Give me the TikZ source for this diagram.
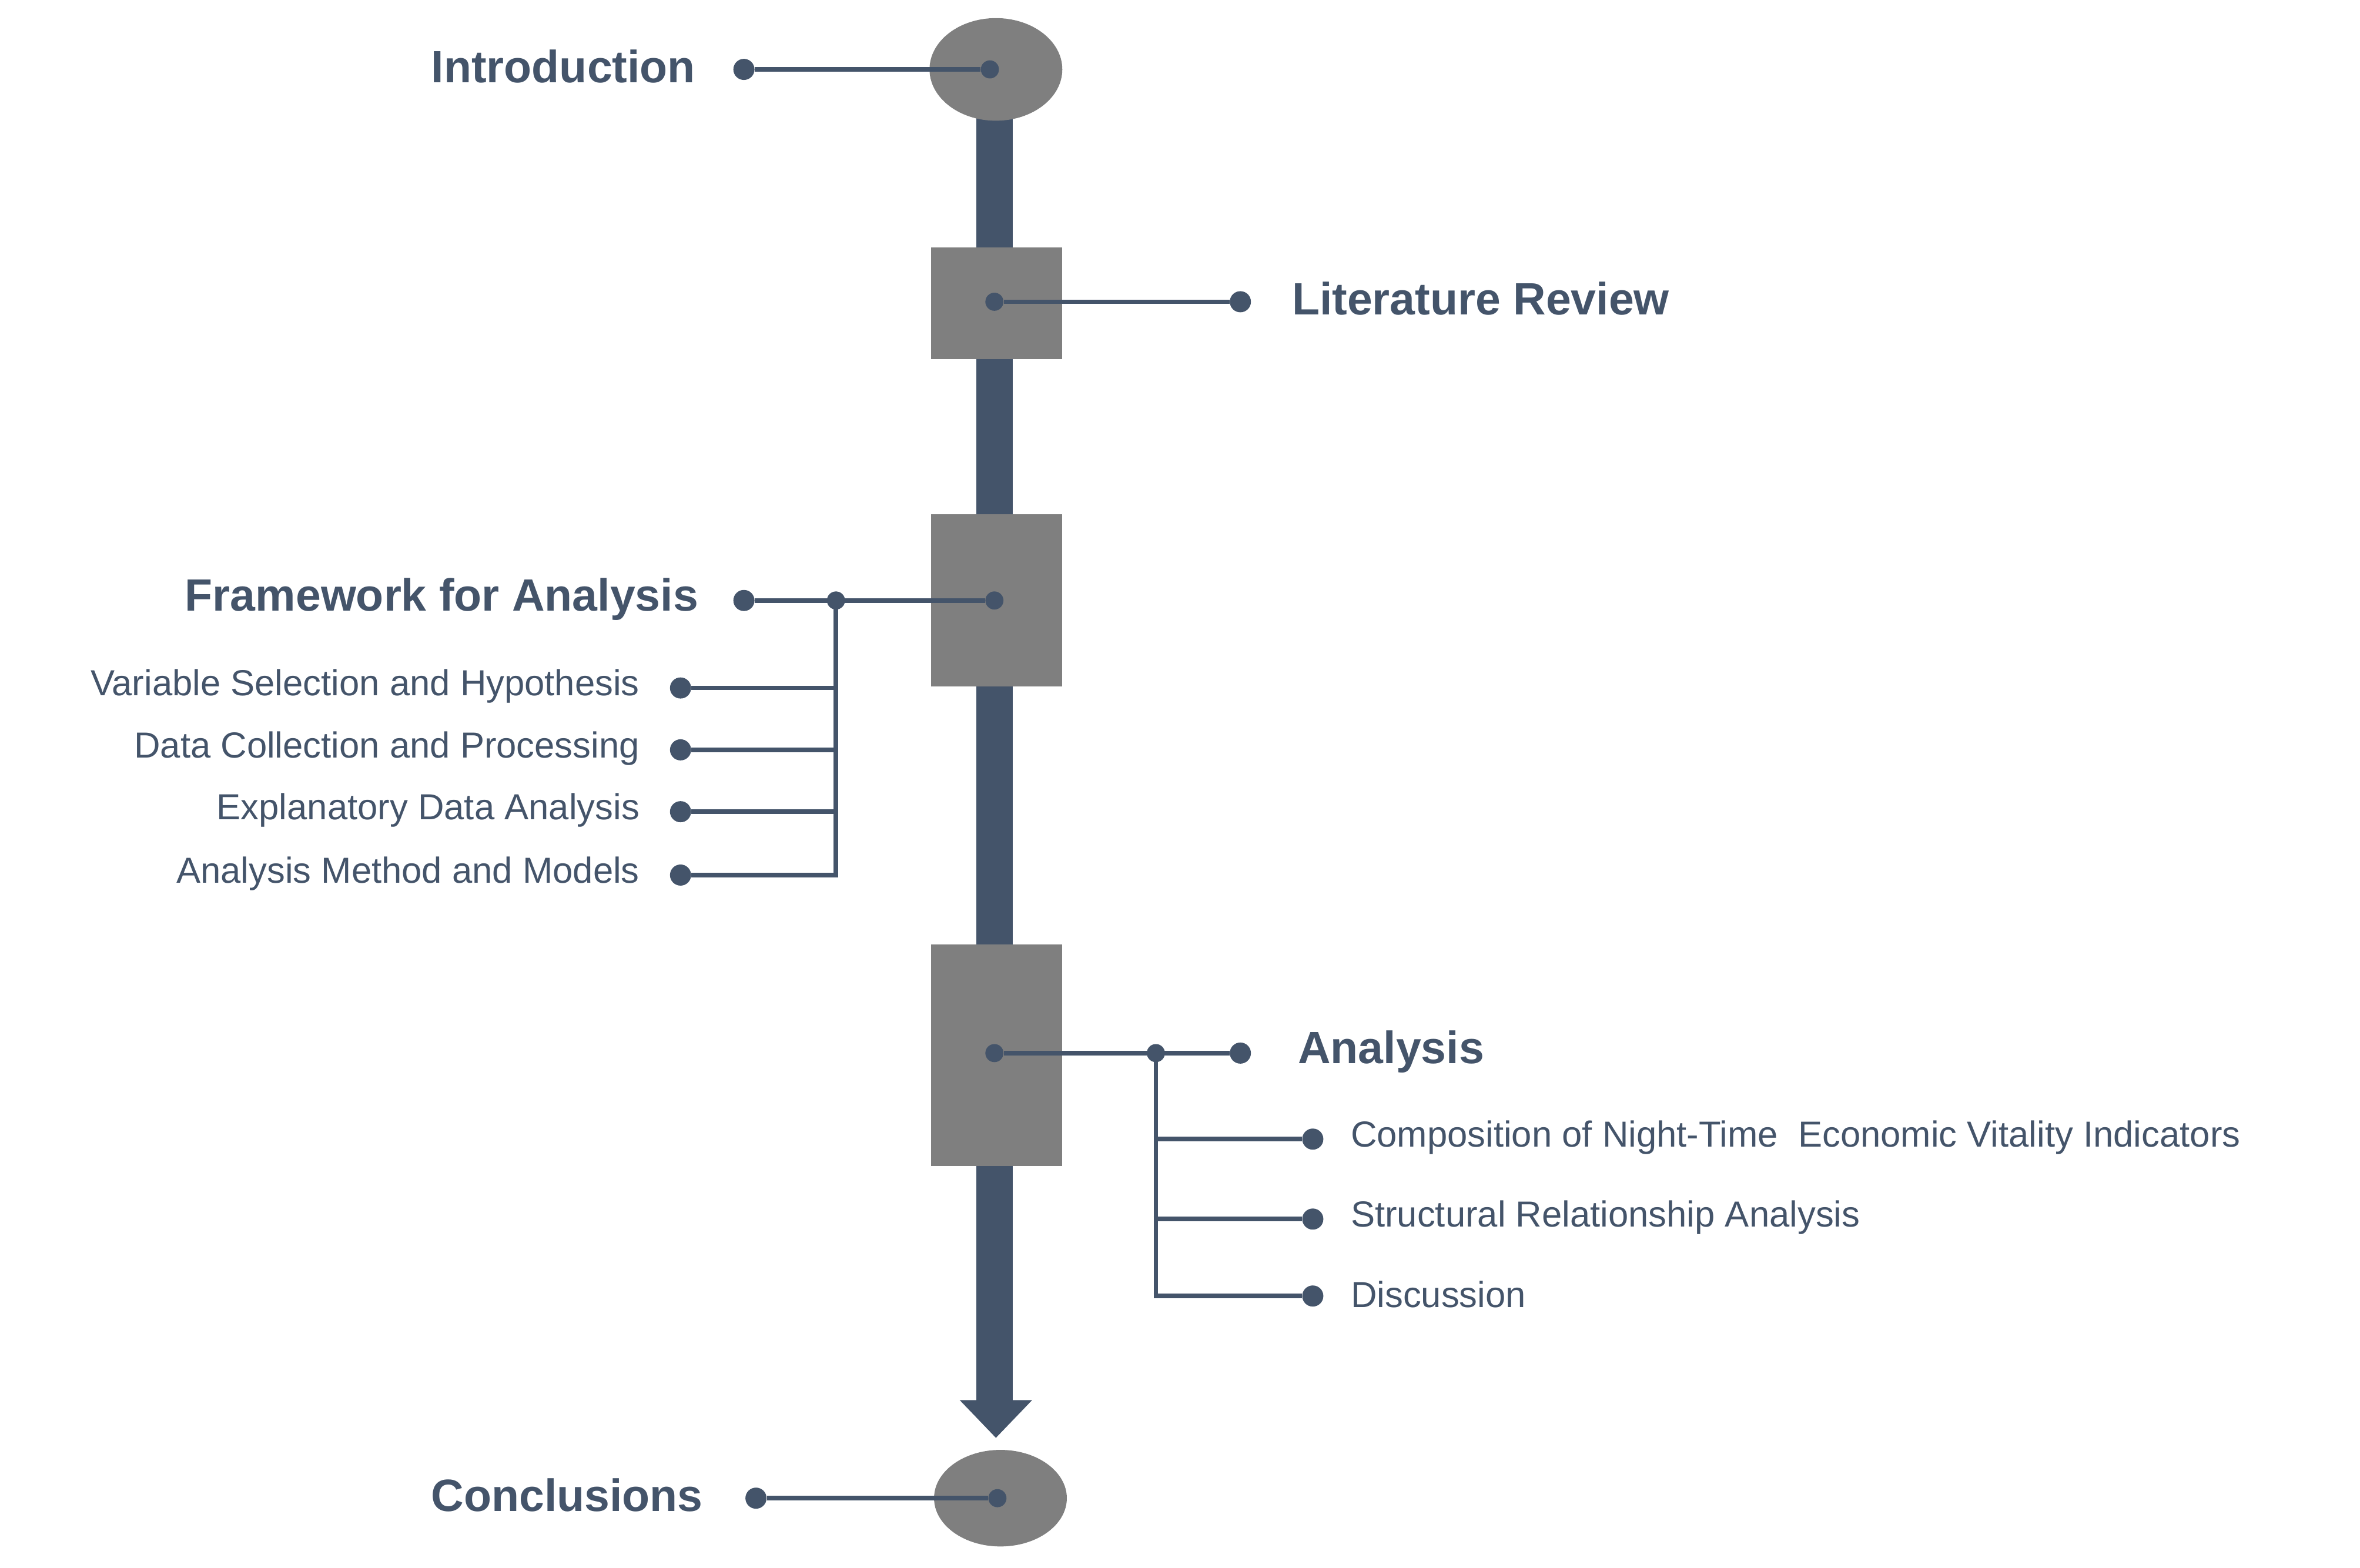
\documentclass[tikz,border=0pt]{standalone}
\usepackage{fontspec}
\setmainfont{Liberation Sans}
\begin{document}
\begin{tikzpicture}[x=1pt,y=-1pt,
  slate/.style={draw=sl,line width=3pt},
  dot/.style={circle,fill=sl,inner sep=0pt,minimum size=14pt},
  jd/.style={circle,fill=sl,inner sep=0pt,minimum size=12pt},
  gbox/.style={fill=gr,draw=none},
  title/.style={text=sl,font=\fontsize{30}{34}\selectfont\bfseries,inner sep=0pt},
  sub/.style={text=sl,font=\fontsize{24}{28}\selectfont,inner sep=0pt}]
\definecolor{sl}{HTML}{44546A}
\definecolor{gr}{HTML}{7F7F7F}
\useasboundingbox (0,0) rectangle (1564,1039);
% spine
\fill[sl] (647,46) rectangle (671,930);
\fill[sl] (636,928) -- (684,928) -- (660,953) -- cycle;
% shapes
\fill[gr] (660,46) ellipse [x radius=44,y radius=34];
\fill[gr] (617,164) rectangle (704,238);
\fill[gr] (617,341) rectangle (704,455);
\fill[gr] (617,626) rectangle (704,773);
\fill[gr] (663,993) ellipse [x radius=44,y radius=32];
% Introduction
\node[dot] (i1) at (493,46) {};
\node[jd] (i2) at (656,46) {};
\draw[slate] (i1) -- (i2);
\node[title,anchor=east] (it) at (461,44) {Introduction};
% Literature
\node[jd] (l1) at (659,200) {};
\node[dot] (l2) at (822,200) {};
\draw[slate] (l1) -- (l2);
\node[title,anchor=west] (lt) at (856,198) {Literature Review};
% Framework
\node[dot] (f1) at (493,398) {};
\node[jd] (f2) at (659,398) {};
\node[jd] (fj) at (554,398) {};
\draw[slate] (f1) -- (f2);
\coordinate (fb) at (554,580);
\draw[slate] (fj.center) -- (fb);
\node[title,anchor=east] (ft) at (463,397) {Framework for Analysis};
\foreach \y/\t [count=\i] in {456/Variable Selection and Hypothesis,497/Data Collection and Processing,538/Explanatory Data Analysis,580/Analysis Method and Models}{
  \node[dot] (fs\i) at (451,\y) {};
  \coordinate (fc\i) at (555.5,\y);
  \draw[slate] (fs\i) -- (fc\i);
  \node[sub,anchor=east] (ft\i) at (424,\y-1) {\t};
}
% Analysis
\node[jd] (a1) at (659,698) {};
\node[dot] (a2) at (822,698) {};
\node[jd] (aj) at (766,698) {};
\draw[slate] (a1) -- (a2);
\coordinate (ab) at (766,859);
\draw[slate] (aj.center) -- (ab);
\node[title,anchor=west] (at) at (860,697) {Analysis};
\foreach \y/\t [count=\i] in {755/Composition of Night-Time\ \ Economic Vitality Indicators,808/Structural Relationship Analysis,859/Discussion}{
  \node[dot] (as\i) at (870,\y) {};
  \coordinate (ac\i) at (764.5,\y);
  \draw[slate] (ac\i) -- (as\i);
  \node[sub,anchor=west] (at\i) at (895,\y-1) {\t};
}
% Conclusions
\node[dot] (c1) at (501,993) {};
\node[jd] (c2) at (661,993) {};
\draw[slate] (c1) -- (c2);
\node[title,anchor=east] (ct) at (466,991) {Conclusions};
\end{tikzpicture}
\end{document}
